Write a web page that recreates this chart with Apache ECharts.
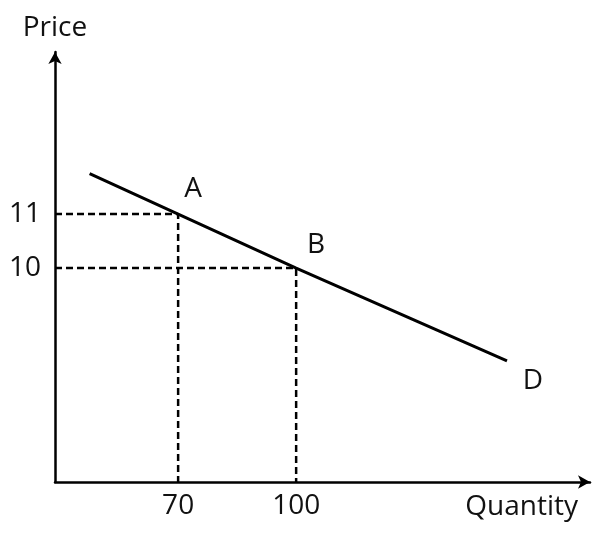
<!DOCTYPE html>
<html><head><meta charset="utf-8">
<script src="https://cdn.jsdelivr.net/npm/echarts@6/dist/echarts.min.js"></script>
<style>html,body{margin:0;padding:0;background:#fff}#c{width:595px;height:534px}</style>
</head><body><div id="c"></div>
<script>
const xTicks = [70, 100];
const yTicks = [10, 11];
const demandX = [47.5, 70, 100, 153.6];
const demandY = [11.75, 11, 10, 8.28];
const pointNames = ['A', 'B', 'D'];
const pointX = [70, 100, 153.6];
const pointY = [11, 10, 8.28];
const xMin = 38.7, xMax = 174.7, yMin = 6.04, yMax = 14;

const font = 'Open Sans';
const txt = '#111';
const fs = 28;
const chart = echarts.init(document.getElementById('c'), null, {renderer: 'canvas'});
const labelOffsets = [[15, -25], [20, -23], [26, 20]];
const dashStyle = {color: '#000', width: 2.5, type: [7, 4]};
const guides = [];
for (let i = 0; i < xTicks.length; i++) {
  const x = xTicks[i], y = yTicks[yTicks.length - 1 - i];
  guides.push({type: 'line', data: [[xMin, y], [x, y], [x, yMin]], symbol: 'none', lineStyle: dashStyle, silent: true, z: 1});
}
chart.setOption({
  animation: false,
  grid: {left: 55, right: 5, top: 52, bottom: 52},
  xAxis: {
    type: 'value', min: xMin, max: xMax,
    name: 'Quantity', nameLocation: 'end', nameGap: -12,
    nameTextStyle: {fontFamily: font, fontSize: fs, color: txt, align: 'right', verticalAlign: 'top', padding: [11, 0, 0, 0]},
    axisLine: {lineStyle: {color: '#000', width: 2.5}, symbol: ['none', 'arrow'], symbolSize: [10, 12]},
    axisTick: {show: false},
    splitLine: {show: false},
    axisLabel: {customValues: xTicks, fontFamily: font, fontSize: fs, color: txt, margin: 10}
  },
  yAxis: {
    type: 'value', min: yMin, max: yMax,
    name: 'Price', nameLocation: 'end', nameGap: 10,
    nameTextStyle: {fontFamily: font, fontSize: fs, color: txt, align: 'center', verticalAlign: 'bottom'},
    axisLine: {lineStyle: {color: '#000', width: 2.5}, symbol: ['none', 'arrow'], symbolSize: [10, 12]},
    axisTick: {show: false},
    splitLine: {show: false},
    axisLabel: {customValues: yTicks, fontFamily: font, fontSize: fs, color: txt, margin: 14}
  },
  series: guides.concat([
    {type: 'line', data: demandX.map((x, i) => [x, demandY[i]]), symbol: 'none', lineStyle: {color: '#000', width: 3}, z: 3},
    {type: 'scatter', symbolSize: 1, itemStyle: {opacity: 0}, z: 4, silent: true,
      data: pointNames.map((n, i) => ({value: [pointX[i], pointY[i]], name: n,
        label: {show: true, position: 'inside', formatter: n, offset: labelOffsets[i], fontFamily: font, fontSize: fs, color: txt, opacity: 1, textBorderWidth: 0}}))}
  ])
});
</script></body></html>
